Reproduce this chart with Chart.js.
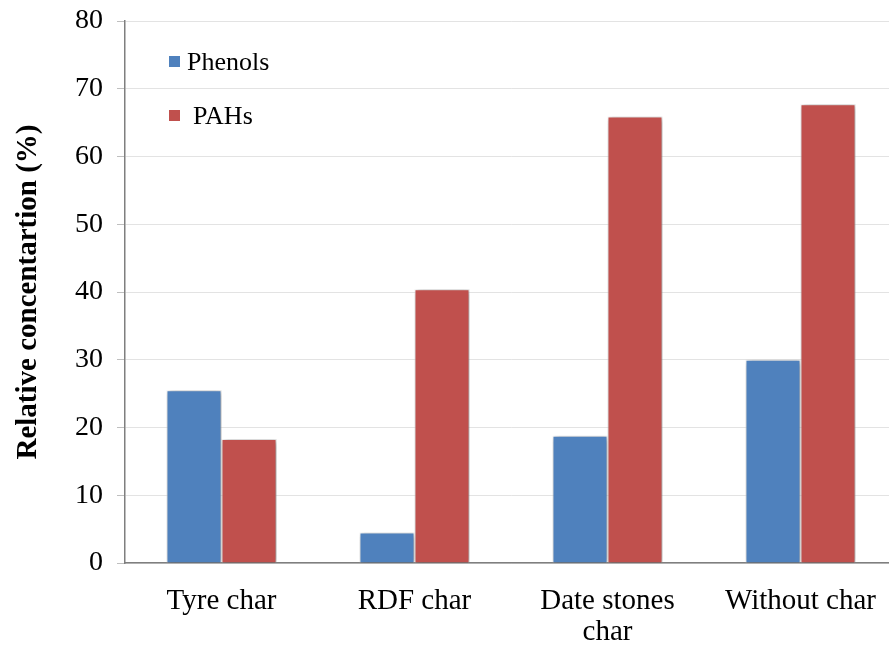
<!DOCTYPE html>
<html>
<head>
<meta charset="utf-8">
<script src="https://cdn.jsdelivr.net/npm/chart.js@4.4.1/dist/chart.umd.min.js"></script>
<style>
  body { margin: 0; background: #fff; }
  #wrap { width: 889px; height: 648px; overflow: hidden; }
</style>
</head>
<body>
<div id="wrap"><canvas id="grafica" width="898" height="648"></canvas></div>
<script>
var categorias = [["Tyre char"], ["RDF char"], ["Date stones", "char"], ["Without char"]];
var fenoles = [25.5, 4.5, 18.8, 30.0];
var pahs = [18.3, 40.4, 65.9, 67.7];
var ticksY = [0, 10, 20, 30, 40, 50, 60, 70, 80];

var fuente = "'Liberation Serif', 'Times New Roman', serif";

// sombra gris detras de las barras
var sombra = {
  id: 'sombra',
  beforeDatasetsDraw: function(chart) {
    var ctx = chart.ctx;
    ctx.save();
    ctx.shadowColor = 'rgba(0,0,0,0.45)';
    ctx.shadowBlur = 6;
    ctx.shadowOffsetX = 2;
    ctx.shadowOffsetY = 1;
  },
  afterDatasetsDraw: function(chart) {
    chart.ctx.restore();
  }
};

// leyenda dentro del area de la grafica
var leyenda = {
  id: 'leyenda',
  afterDraw: function(chart) {
    var ctx = chart.ctx;
    var items = [
      {txt: "Phenols", y: 62, x: 187},
      {txt: "PAHs", y: 116, x: 193}
    ];
    ctx.save();
    ctx.font = "26px " + fuente;
    ctx.textBaseline = 'middle';
    items.forEach(function(it, i) {
      ctx.fillStyle = chart.data.datasets[i].backgroundColor;
      ctx.fillRect(169, it.y - 6, 11, 11);
      ctx.fillStyle = '#000';
      ctx.fillText(it.txt, it.x, it.y + 1);
    });
    ctx.restore();
  }
};

var ctx = document.getElementById('grafica').getContext('2d');
var chart = new Chart(ctx, {
  type: 'bar',
  data: {
    labels: categorias,
    datasets: [{
      label: "Phenols",
      data: fenoles,
      backgroundColor: '#4F81BD',
      borderColor: '#ffffff',
      borderWidth: 1,
      categoryPercentage: 0.57,
      barPercentage: 1.0
    }, {
      label: "PAHs",
      data: pahs,
      backgroundColor: '#C0504D',
      borderColor: '#ffffff',
      borderWidth: 1,
      categoryPercentage: 0.57,
      barPercentage: 1.0
    }]
  },
  options: {
    responsive: false,
    animation: false,
    layout: { padding: { top: 21, right: 0, left: 0, bottom: 0 } },
    plugins: {
      legend: { display: false },
      tooltip: { enabled: false }
    },
    scales: {
      x: {
        grid: { display: false, drawTicks: false },
        border: { color: '#7f7f7f', width: 1.5 },
        ticks: {
          color: '#000',
          font: { family: fuente, size: 29, lineHeight: 1.1 },
          padding: 22,
          maxRotation: 0
        },
        afterFit: function(scale) { scale.height = 85; }
      },
      y: {
        min: 0,
        max: 80,
        afterBuildTicks: function(scale) {
          scale.ticks = ticksY.map(function(v) { return {value: v}; });
        },
        grid: { color: '#e3e3e3', lineWidth: 1, tickLength: 8, tickColor: '#bfbfbf' },
        border: { color: '#7f7f7f', width: 1.5 },
        ticks: {
          color: '#000',
          font: { family: fuente, size: 28 },
          padding: 14
        },
        title: {
          display: true,
          text: "Relative concentartion (%)",
          color: '#000',
          font: { family: fuente, size: 29, weight: 'bold', lineHeight: 1.2 },
          padding: { top: 11, bottom: 8 }
        },
        afterFit: function(scale) {
          scale.width = 125;
          scale.paddingTop = 0;
          scale.paddingBottom = 0;
        }
      }
    }
  },
  plugins: [sombra, leyenda]
});
</script>
</body>
</html>
